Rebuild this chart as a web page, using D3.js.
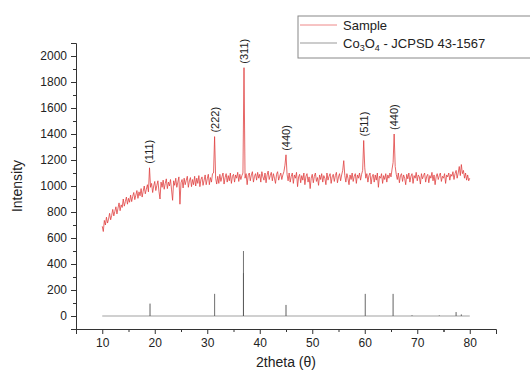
<!DOCTYPE html>
<html>
<head>
<meta charset="utf-8">
<script src="https://cdn.jsdelivr.net/npm/d3@7"></script>
<style>
  body { margin: 0; background: #fff; }
  svg { font-family: "Liberation Sans", Arial, sans-serif; }
</style>
</head>
<body>
<svg id="chart" width="530" height="374"></svg>
<script>
// sample scan: 2theta from 10 to 80 in 0.2 steps
const xStart = 10
const xStep = 0.2
const sampleCounts = [
  690,650,735,700,760,715,745,790,740,775,
  820,770,805,840,785,830,870,810,855,835,
  900,845,880,915,860,905,875,930,880,920,
  950,895,930,965,905,955,925,980,915,960,
  1000,940,975,1010,955,1140,990,1020,950,1000,
  1035,965,1005,1040,960,900,1030,990,1045,975,
  1020,1055,980,1030,1000,1050,970,890,1040,1005,
  1060,990,1030,1070,860,1025,1050,985,1060,1010,
  1045,1075,990,1040,1065,995,1050,1010,1075,1000,
  1060,1020,1080,995,1050,1070,1005,1045,1085,1010,
  1055,1090,1010,1065,1030,1095,1100,1380,1060,1015,
  1075,1020,1090,1035,1070,1100,1015,1065,1095,1030,
  1080,1040,1100,1020,1075,1090,1030,1085,1060,1105,
  1035,1090,1050,1080,1100,1910,1060,1095,1010,1080,
  1100,1040,1085,1110,1030,1075,1095,1045,1105,1060,
  1090,1030,1110,1070,1045,1100,1025,1085,1115,1050,
  1080,1105,1040,1095,1060,1020,1090,1110,1045,1075,
  1100,1050,1085,1110,1160,1240,1090,1040,1100,1030,
  1075,1100,1020,1085,1060,1105,995,1070,1090,1025,
  1080,1045,1100,1010,1075,1095,1030,1070,980,1060,
  1090,1025,1075,1100,1035,1065,1005,1085,1050,1095,
  1030,1080,1060,1010,1100,1045,1075,1095,1020,1070,
  1090,1035,1080,1105,1025,1070,1095,1040,1085,1120,
  1195,1080,1030,1095,1060,1010,1085,1050,1100,1035,
  1075,1095,1020,1085,1060,1100,1045,1090,1120,1350,
  1140,1060,1095,1030,1080,1100,1015,1070,1090,1030,
  1085,1045,1100,990,1075,1060,1095,1020,1080,1050,
  1095,1030,1085,1060,1100,1070,1130,1180,1400,1150,
  1090,1050,1100,1025,1080,1095,1035,1085,1060,1010,
  1090,1055,1100,1030,1075,1095,1020,1080,1060,1105,
  1040,1085,1070,1015,1095,1055,1080,1100,1030,1075,
  1090,1025,1080,1060,1105,1040,1085,1010,1070,1095,
  1050,1080,1100,1035,1075,1060,1095,1020,1085,1070,
  1100,1045,1090,1075,1110,1050,1095,1120,1060,1100,
  1150,1080,1165,1095,1120,1060,1100,1045,1085,1040,
  1060
]

// reference pattern sticks
const refPositions = [19.1, 31.4, 36.9, 36.9, 45.0, 60.1, 65.4, 69.0, 74.2, 77.4, 78.4]
const refIntensities = [95, 170, 500, 330, 85, 170, 170, 5, 4, 30, 12]

// peak labels
const peakLabels = ['(111)', '(222)', '(311)', '(440)', '(511)', '(440)']
const peakPositions = [19.0, 31.4, 37.0, 45.0, 59.8, 65.6]
const peakHeights = [1140, 1380, 1910, 1240, 1350, 1400]

const xTicks = [10, 20, 30, 40, 50, 60, 70, 80]
const yTicks = [0, 200, 400, 600, 800, 1000, 1200, 1400, 1600, 1800, 2000]

const svg = d3.select('#chart')
const margin = { left: 76, right: 34, top: 43, bottom: 45 }
const width = 530, height = 374

const x = d3.scaleLinear().domain([5, 85]).range([margin.left, width - margin.right])
const y = d3.scaleLinear().domain([-100, 2100]).range([height - margin.bottom, margin.top])

const sample = sampleCounts.map((v, i) => [xStart + i * xStep, v])

// reference drawn as a baseline with spikes
const refLine = [[10, 0]]
refPositions.forEach((p, i) => {
    refLine.push([p, 0], [p, refIntensities[i]], [p, 0])
})
refLine.push([80, 0])

const line = d3.line().x(d => x(d[0])).y(d => y(d[1]))

svg.append('path')
    .datum(refLine)
    .attr('fill', 'none')
    .attr('stroke', '#555')
    .attr('stroke-opacity', 0.55)
    .attr('stroke-width', 1)
    .attr('d', line)

svg.append('path')
    .datum(sample)
    .attr('fill', 'none')
    .attr('stroke', '#e04040')
    .attr('stroke-width', 0.8)
    .attr('stroke-linejoin', 'round')
    .attr('d', line)

// peak labels, rotated
svg.append('g')
    .selectAll('text')
    .data(peakLabels)
    .join('text')
    .attr('transform', (d, i) => `translate(${x(peakPositions[i]) + 1},${y(peakHeights[i]) - 4}) rotate(-90)`)
    .attr('dominant-baseline', 'middle')
    .attr('font-size', 11)
    .attr('fill', '#222')
    .text(d => d)

// axes
svg.append('g')
    .attr('transform', `translate(0,${height - margin.bottom})`)
    .call(d3.axisBottom(x).tickValues(xTicks).tickSize(5).tickPadding(4).tickFormat(d3.format('d')))
svg.append('g')
    .attr('transform', `translate(0,${height - margin.bottom})`)
    .call(d3.axisBottom(x).tickValues(xTicks.map(v => v - 5).concat([75])).tickSize(3).tickFormat(''))
    .call(g => g.select('.domain').remove())

svg.append('g')
    .attr('transform', `translate(${margin.left},0)`)
    .call(d3.axisLeft(y).tickValues(yTicks).tickSize(5).tickPadding(4).tickFormat(d3.format('d')))
svg.append('g')
    .attr('transform', `translate(${margin.left},0)`)
    .call(d3.axisLeft(y).tickValues(yTicks.map(v => v + 100).concat([-100])).tickSize(3).tickFormat(''))
    .call(g => g.select('.domain').remove())

svg.selectAll('.domain').attr('stroke', '#333')
svg.selectAll('.tick line').attr('stroke', '#333')
svg.selectAll('.tick text').attr('font-size', 12).attr('fill', '#222').attr('font-family', '"Liberation Sans", Arial, sans-serif')

// axis titles
svg.append('text')
    .attr('x', (x(5) + x(85)) / 2)
    .attr('y', 367)
    .attr('text-anchor', 'middle')
    .attr('font-size', 14)
    .attr('fill', '#222')
    .text('2theta (θ)')

svg.append('text')
    .attr('transform', `translate(22,${(y(-100) + y(2100)) / 2}) rotate(-90)`)
    .attr('text-anchor', 'middle')
    .attr('font-size', 14)
    .attr('fill', '#222')
    .text('Intensity')

// legend
const legend = svg.append('g').attr('transform', 'translate(298,16)')
legend.append('rect')
    .attr('width', 240).attr('height', 42)
    .attr('fill', '#fff').attr('stroke', '#888').attr('stroke-width', 1)
legend.append('line')
    .attr('x1', 2).attr('x2', 39).attr('y1', 9).attr('y2', 9)
    .attr('stroke', '#e88').attr('stroke-width', 1)
legend.append('line')
    .attr('x1', 2).attr('x2', 39).attr('y1', 27).attr('y2', 27)
    .attr('stroke', '#999').attr('stroke-width', 1)
legend.append('text')
    .attr('x', 45).attr('y', 14)
    .attr('font-size', 13).attr('fill', '#222')
    .text('Sample')
const co = legend.append('text')
    .attr('x', 45).attr('y', 32)
    .attr('font-size', 13).attr('fill', '#222')
co.append('tspan').text('Co')
co.append('tspan').attr('font-size', 9).attr('dy', 3).text('3')
co.append('tspan').attr('dy', -3).text('O')
co.append('tspan').attr('font-size', 9).attr('dy', 3).text('4')
co.append('tspan').attr('dy', -3).text(' - JCPSD 43-1567')
</script>
</body>
</html>
